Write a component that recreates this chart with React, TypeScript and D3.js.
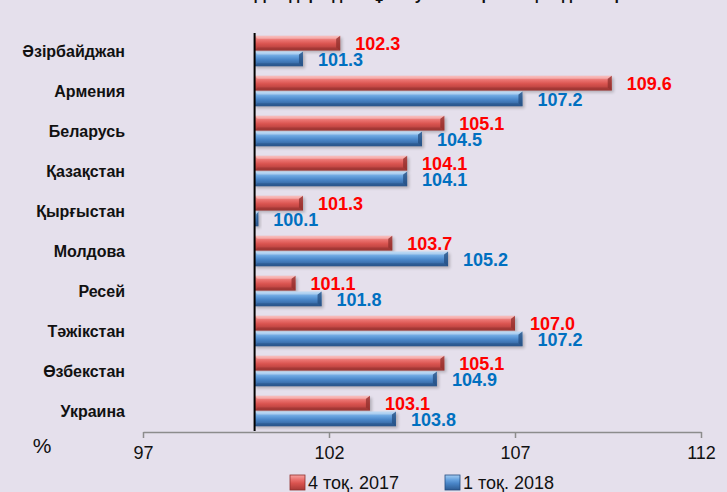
import React, { useEffect, useRef } from 'react';
import * as d3 from 'd3';

const countries = ['Әзірбайджан', 'Армения', 'Беларусь', 'Қазақстан', 'Қырғыстан', 'Молдова', 'Ресей', 'Тәжікстан', 'Өзбекстан', 'Украина'];
const q4_2017 = [102.3, 109.6, 105.1, 104.1, 101.3, 103.7, 101.1, 107.0, 105.1, 103.1];
const q1_2018 = [101.3, 107.2, 104.5, 104.1, 100.1, 105.2, 101.8, 107.2, 104.9, 103.8];
const seriesNames = ['4 тоқ. 2017', '1 тоқ. 2018'];
const xTicks = [97, 102, 107, 112];
const titleText = 'ТМД елдеріндегі тұтыну бағаларының индекстері';

export default function App() {
  const ref = useRef<SVGSVGElement>(null);
  useEffect(() => {
    const w = 727, h = 492;
    const svg = d3.select(ref.current).attr('width', w).attr('height', h);
    svg.selectAll('*').remove();

    const series = [
      { key: 's0', name: seriesNames[0], values: q4_2017, label: '#ff0000',
        stops: ['#f7a3a1', '#ea726f', '#d9534f', '#a83a37'], edge: '#8f2f2c' },
      { key: 's1', name: seriesNames[1], values: q1_2018, label: '#0070c0',
        stops: ['#a5cdf2', '#6aa5e0', '#4a86c8', '#2d5b93'], edge: '#244d80' },
    ];

    const defs = svg.append('defs');
    series.forEach(s => {
      const g = defs.append('linearGradient').attr('id', 'g' + s.key)
        .attr('x1', 0).attr('y1', 0).attr('x2', 0).attr('y2', 1);
      [0, 0.3, 0.55, 1].forEach((o, i) =>
        g.append('stop').attr('offset', o).attr('stop-color', s.stops[i]));
    });
    const f = defs.append('filter').attr('id', 'shadow')
      .attr('x', '-10%').attr('y', '-30%').attr('width', '130%').attr('height', '180%');
    f.append('feGaussianBlur').attr('stdDeviation', 1.5);

    svg.append('rect').attr('width', w).attr('height', h).attr('fill', '#e5e0ec');

    // title, cut off at the top as in the source
    svg.append('text').attr('x', 430).attr('y', 0)
      .attr('text-anchor', 'middle').attr('font-family', 'Liberation Sans, Arial, sans-serif')
      .attr('font-weight', 'bold').attr('font-size', 16).attr('fill', '#111')
      .text(titleText);

    const x = d3.scaleLinear().domain([97, 112]).range([143, 701]);
    const y0 = d3.scaleBand().domain(countries).range([31, 431])
      .paddingInner(0.24).paddingOuter(0.12);
    const y1 = d3.scaleBand().domain(series.map(s => s.key))
      .range([0, y0.bandwidth()]).paddingInner(0.07);
    const base = x(100);

    // category labels
    svg.append('g').selectAll('text').data(countries).join('text')
      .attr('x', 125).attr('y', d => y0(d)! + y0.bandwidth() / 2)
      .attr('dy', '0.35em').attr('text-anchor', 'end')
      .attr('font-family', 'Liberation Sans, Arial, sans-serif')
      .attr('font-weight', 'bold').attr('font-size', 16).attr('fill', '#111')
      .text(d => d);

    // bars
    series.forEach(s => {
      const g = svg.append('g');
      const bh = y1.bandwidth();
      const rows = countries.map((c, i) => ({ c, v: s.values[i] }));
      g.selectAll('rect.sh').data(rows).join('rect').attr('class', 'sh')
        .attr('x', base + 1).attr('y', d => y0(d.c)! + y1(s.key)! + 2)
        .attr('width', d => x(d.v) - base + 1).attr('height', bh)
        .attr('fill', '#000').attr('opacity', 0.22).attr('filter', 'url(#shadow)');
      g.selectAll('rect.bar').data(rows).join('rect').attr('class', 'bar')
        .attr('x', base).attr('y', d => y0(d.c)! + y1(s.key)!)
        .attr('width', d => x(d.v) - base).attr('height', bh)
        .attr('fill', `url(#g${s.key})`);
      // bevel at the right end and edges
      g.selectAll('path.bev').data(rows).join('path').attr('class', 'bev')
        .attr('d', d => {
          const x1 = x(d.v), yt = y0(d.c)! + y1(s.key)!, yb = yt + bh;
          const b = Math.min(4, (x1 - base) / 2);
          return `M${x1},${yt}L${x1},${yb}L${x1 - b},${yb - 3}L${x1 - b},${yt + 3}Z`;
        })
        .attr('fill', s.edge).attr('opacity', 0.75);
      g.selectAll('path.bot').data(rows).join('path').attr('class', 'bot')
        .attr('d', d => {
          const x1 = x(d.v), yt = y0(d.c)! + y1(s.key)!, yb = yt + bh;
          const b = Math.min(4, (x1 - base) / 2);
          return `M${base},${yb}L${x1},${yb}L${x1 - b},${yb - 3}L${base + 3},${yb - 3}Z`;
        })
        .attr('fill', s.edge).attr('opacity', 0.45);
      g.selectAll('path.top').data(rows).join('path').attr('class', 'top')
        .attr('d', d => {
          const x1 = x(d.v), yt = y0(d.c)! + y1(s.key)!;
          const b = Math.min(4, (x1 - base) / 2);
          return `M${base},${yt}L${x1},${yt}L${x1 - b},${yt + 3}L${base + 3},${yt + 3}Z`;
        })
        .attr('fill', '#fff').attr('opacity', 0.3);
      g.selectAll('text').data(rows).join('text')
        .attr('x', d => x(d.v) + 15).attr('y', d => y0(d.c)! + y1(s.key)! + bh / 2 + 1)
        .attr('dy', '0.35em')
        .attr('font-family', 'Liberation Sans, Arial, sans-serif')
        .attr('font-weight', 'bold').attr('font-size', 18).attr('fill', s.label)
        .text(d => d.v.toFixed(1));
    });

    // baseline at 100
    svg.append('line').attr('x1', base).attr('x2', base).attr('y1', 33).attr('y2', 431)
      .attr('stroke', '#000').attr('stroke-width', 2);

    // x axis
    const ax = svg.append('g').attr('transform', 'translate(0,432)')
      .call(d3.axisBottom(x).tickValues(xTicks).tickSize(6).tickSizeOuter(0).tickPadding(8));
    ax.select('.domain').attr('stroke', '#8c8c8c').attr('stroke-width', 1.5);
    ax.selectAll('.tick line').attr('stroke', '#8c8c8c').attr('stroke-width', 1.5);
    ax.selectAll('.tick text').attr('font-family', 'Liberation Sans, Arial, sans-serif')
      .attr('font-size', 18).attr('fill', '#111');

    svg.append('text').attr('x', 42).attr('y', 453).attr('text-anchor', 'middle')
      .attr('font-family', 'Liberation Sans, Arial, sans-serif').attr('font-size', 21)
      .attr('fill', '#111').text('%');

    // legend
    const lg = svg.append('g');
    const lx = [290, 445];
    series.forEach((s, i) => {
      lg.append('rect').attr('x', lx[i]).attr('y', 475).attr('width', 15).attr('height', 15)
        .attr('fill', `url(#g${s.key})`).attr('stroke', s.edge).attr('stroke-width', 0.8);
      lg.append('text').attr('x', lx[i] + 18).attr('y', 489)
        .attr('font-family', 'Liberation Sans, Arial, sans-serif').attr('font-size', 18)
        .attr('fill', '#111').text(s.name);
    });
  }, []);
  return (
    <div style={{ position: 'fixed', left: 0, top: 0 }}>
      <svg ref={ref} style={{ display: 'block' }} />
    </div>
  );
}
